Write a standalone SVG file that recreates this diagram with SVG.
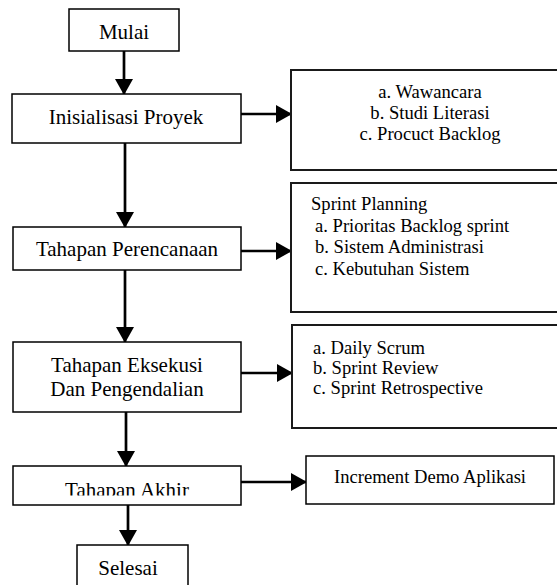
<svg xmlns="http://www.w3.org/2000/svg" width="557" height="585" viewBox="0 0 557 585">
  <style>
    .box { fill: #ffffff; stroke: #000000; stroke-width: 1.5; }
    .side { fill: #ffffff; stroke: #1a1a1a; stroke-width: 2; }
    text { font-family: 'Liberation Serif', 'Tinos', 'Times New Roman', 'DejaVu Serif', serif; fill: #000000; }
    .main { font-size: 21px; text-anchor: middle; }
    .note { font-size: 18.6px; }
    .mid { text-anchor: middle; }
    .link { fill: none; stroke: #000000; stroke-width: 2.7; }
  </style>
  <defs>
    <marker id="head" markerUnits="userSpaceOnUse" markerWidth="16" markerHeight="18" viewBox="0 0 16 18" refX="15" refY="9" orient="auto">
      <path d="M0,0 L16,9 L0,18 Z" fill="#000000"/>
    </marker>
    <clipPath id="akhirClip">
      <rect x="13" y="466" width="228" height="29.5"/>
    </clipPath>
  </defs>

  <rect x="0" y="0" width="557" height="585" fill="#ffffff"/>

  <!-- connectors -->
  <g id="connectors">
    <line class="link" x1="124" y1="51" x2="124" y2="94" marker-end="url(#head)"/>
    <line class="link" x1="125" y1="143" x2="125" y2="227" marker-end="url(#head)"/>
    <line class="link" x1="125" y1="270" x2="125" y2="342" marker-end="url(#head)"/>
    <line class="link" x1="126" y1="412" x2="126" y2="466" marker-end="url(#head)"/>
    <line class="link" x1="128" y1="505" x2="128" y2="545" marker-end="url(#head)"/>
    <line class="link" x1="241" y1="114" x2="291" y2="114" marker-end="url(#head)"/>
    <line class="link" x1="241" y1="251" x2="291" y2="251" marker-end="url(#head)"/>
    <line class="link" x1="241" y1="373" x2="292" y2="373" marker-end="url(#head)"/>
    <line class="link" x1="241" y1="482" x2="306" y2="482" marker-end="url(#head)"/>
  </g>

  <!-- main flow -->
  <g id="mulai">
    <rect class="box" x="69" y="9" width="110" height="42"/>
    <text class="main" x="124" y="39" font-family="Liberation Serif, serif">Mulai</text>
  </g>
  <g id="inisialisasi">
    <rect class="box" x="12" y="94" width="229" height="49"/>
    <text class="main" x="126" y="124">Inisialisasi Proyek</text>
  </g>
  <g id="perencanaan">
    <rect class="box" x="13" y="227" width="228" height="43"/>
    <text class="main" x="127" y="256">Tahapan Perencanaan</text>
  </g>
  <g id="eksekusi">
    <rect class="box" x="13" y="342" width="228" height="70"/>
    <text class="main" x="127" y="372">Tahapan Eksekusi</text>
    <text class="main" x="127" y="396">Dan Pengendalian</text>
  </g>
  <g id="akhir">
    <rect class="box" x="13" y="466" width="228" height="39"/>
    <text class="main" x="127" y="497" clip-path="url(#akhirClip)">Tahapan Akhir</text>
  </g>
  <g id="selesai">
    <rect class="box" x="77" y="545" width="111" height="50"/>
    <text class="main" x="128" y="575">Selesai</text>
  </g>

  <!-- side notes -->
  <g id="inisialisasi-detail">
    <rect class="side" x="291" y="70" width="275" height="100"/>
    <text class="note mid" x="430" y="98">a. Wawancara</text>
    <text class="note mid" x="430" y="119">b. Studi Literasi</text>
    <text class="note mid" x="430" y="140">c. Procuct Backlog</text>
  </g>
  <g id="perencanaan-detail">
    <rect class="side" x="291" y="183" width="275" height="129"/>
    <text class="note" x="311" y="210">Sprint Planning</text>
    <text class="note" x="315" y="231.5">a. Prioritas Backlog sprint</text>
    <text class="note" x="315" y="253">b. Sistem Administrasi</text>
    <text class="note" x="315" y="274.5">c. Kebutuhan Sistem</text>
  </g>
  <g id="eksekusi-detail">
    <rect class="side" x="292" y="325" width="275" height="103"/>
    <text class="note" x="313" y="354">a. Daily Scrum</text>
    <text class="note" x="313" y="374">b. Sprint Review</text>
    <text class="note" x="313" y="394">c. Sprint Retrospective</text>
  </g>
  <g id="akhir-detail">
    <rect class="box" x="306" y="456" width="248" height="48"/>
    <text class="note mid" x="430" y="483">Increment Demo Aplikasi</text>
  </g>
</svg>
